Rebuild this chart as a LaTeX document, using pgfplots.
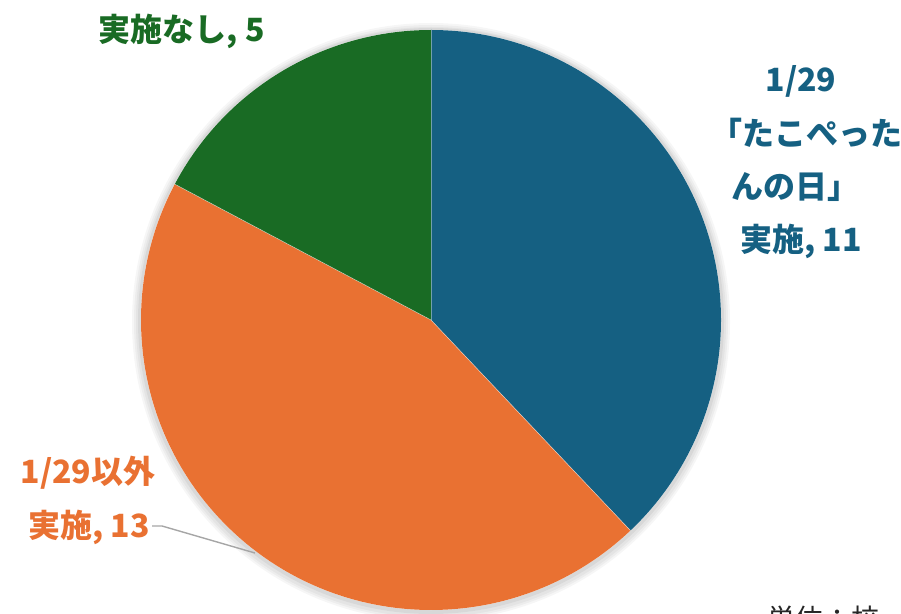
\documentclass[border=0pt]{standalone}
\usepackage{fontspec}
\setmainfont{Noto Sans CJK JP}
\usepackage{pgfplots}
\usepackage{pgfplotstable}
\pgfplotsset{compat=1.18}

\definecolor{cBlue}{HTML}{156082}
\definecolor{cOrange}{HTML}{E97132}
\definecolor{cGreen}{HTML}{196B24}
\definecolor{cLead}{HTML}{A6A6A6}

% schools per group
\pgfplotstableread{
slice value
tako 11
other 13
none 5
}\piedata

\begin{document}
\begin{tikzpicture}
\pgfplotstablegetelem{0}{value}\of\piedata \let\vA\pgfplotsretval
\pgfplotstablegetelem{1}{value}\of\piedata \let\vB\pgfplotsretval
\pgfplotstablegetelem{2}{value}\of\piedata \let\vC\pgfplotsretval
\pgfmathsetmacro\tot{\vA+\vB+\vC}
\pgfmathsetmacro\aA{90}
\pgfmathsetmacro\aB{90-360*\vA/\tot}
\pgfmathsetmacro\aC{\aB-360*\vB/\tot}
\pgfmathsetmacro\aD{\aC-360*\vC/\tot}

\begin{axis}[
at={(0,0)},anchor=south west,
width=901pt,height=613pt,scale only axis,
xmin=0,xmax=901,ymin=0,ymax=613,
axis lines=none,clip=false
]
% soft shadow
\fill[black,opacity=0.035] (axis cs:431,291) circle[radius=299pt];
\fill[black,opacity=0.035] (axis cs:431,291) circle[radius=297pt];
\fill[black,opacity=0.04] (axis cs:431,291) circle[radius=295pt];
\fill[black,opacity=0.05] (axis cs:431,292) circle[radius=293pt];
\fill[white] (axis cs:431,293) circle[radius=290pt];
% slices
\fill[cBlue] (axis cs:431,293) -- ++(\aA:290pt) arc[start angle=\aA,end angle=\aB,radius=290pt] -- cycle;
\fill[cOrange] (axis cs:431,293) -- ++(\aB:290pt) arc[start angle=\aB,end angle=\aC,radius=290pt] -- cycle;
\fill[cGreen] (axis cs:431,293) -- ++(\aC:290pt) arc[start angle=\aC,end angle=\aD,radius=290pt] -- cycle;
\draw[white,opacity=0.6,line width=0.5pt] (axis cs:431,293) -- ++(\aB:290pt);
\draw[white,opacity=0.6,line width=0.5pt] (axis cs:431,293) -- ++(\aC:290pt);
\draw[white,opacity=0.4,line width=0.5pt] (axis cs:431,293) -- ++(\aA:290pt);
% leader line
\draw[cLead,line width=1.4pt] (axis cs:152,87) -- (axis cs:162,87) -- (axis cs:255,60);
% labels
\begin{scope}[every node/.style={font=\fontsize{32}{38}\selectfont\bfseries,inner sep=0pt,anchor=base}]
\node[text=cBlue] at (axis cs:801,521) {1/29};
\node[text=cBlue] at (axis cs:806,467.5) {「たこぺった};
\node[text=cBlue] at (axis cs:795,414) {んの日」};
\node[text=cBlue] at (axis cs:801,361) {実施, 11};
\node[text=cOrange] at (axis cs:88,130) {1/29以外};
\node[text=cOrange] at (axis cs:89,76) {実施, 13};
\node[text=cGreen] at (axis cs:182,571) {実施なし, 5};
\end{scope}
\node[font=\fontsize{28}{34}\selectfont,text=black!85,inner sep=0pt,anchor=base west] at (axis cs:767,-16) {単位：校};
\end{axis}
\pgfresetboundingbox
\useasboundingbox (0,0) rectangle (901pt,613pt);
\end{tikzpicture}
\end{document}
